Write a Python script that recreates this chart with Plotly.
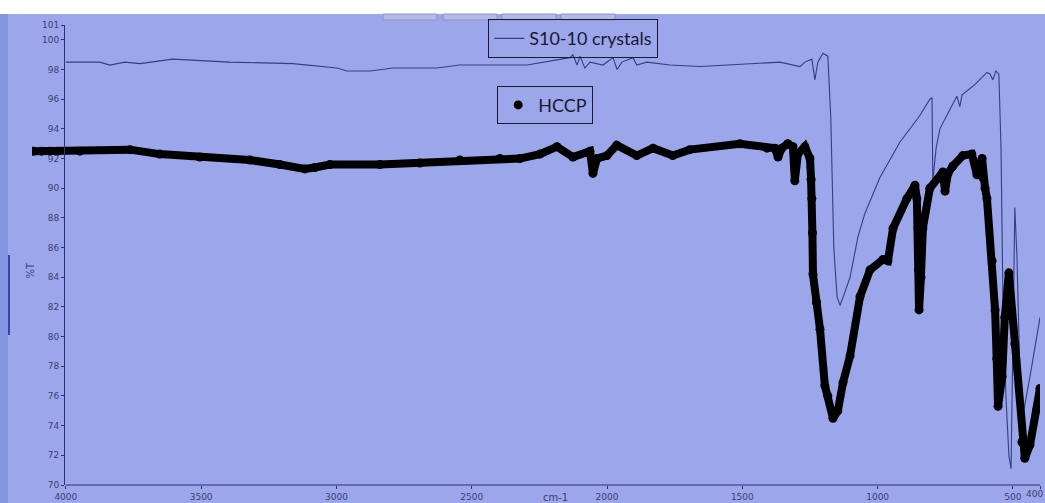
import plotly.graph_objects as go

# ---- data ----
s10_wn = [4000, 3874, 3837, 3782, 3726, 3690, 3605, 3394, 3161, 2998, 2961, 2876, 2791, 2629,
          2544, 2296, 2137, 2126, 2111, 2100, 2082, 2063, 2015, 1978, 1963, 1945, 1904, 1890,
          1853, 1768, 1657, 1361, 1287, 1269, 1243, 1232, 1221, 1202, 1184, 1173, 1162, 1150,
          1139, 1121, 1102, 1073, 1047, 992, 918, 844, 807, 799, 796, 784, 770, 733, 707, 696,
          688, 640, 596, 585, 574, 563, 552, 544, 537, 526, 515, 507, 500, 493, 485, 474, 463,
          437, 400]
s10_t = [98.5, 98.5, 98.3, 98.5, 98.4, 98.5, 98.7, 98.5, 98.4, 98.1, 97.9, 97.9, 98.1, 98.1,
         98.3, 98.3, 98.8, 99.0, 98.3, 98.9, 98.1, 98.5, 98.3, 98.8, 98.0, 98.5, 98.8, 98.3,
         98.5, 98.3, 98.2, 98.5, 98.2, 98.5, 98.7, 97.3, 98.5, 99.1, 98.9, 94.7, 86.0, 82.7,
         82.1, 83.0, 84.0, 86.7, 88.3, 90.7, 93.1, 94.9, 96.0, 96.1, 90.5, 92.7, 94.0, 95.3,
         96.2, 95.5, 96.3, 97.0, 97.8, 97.7, 97.3, 97.9, 97.7, 92.7, 82.7, 76.0, 72.0, 71.1,
         79.3, 88.7, 85.3, 77.3, 74.7, 77.3, 81.3]

hccp_wn = [4120, 4090, 4060, 4030, 3948, 3763, 3653, 3505, 3320, 3209, 3117, 3080, 3024, 2839,
           2692, 2544, 2396, 2322, 2248, 2185, 2126, 2063, 2052, 2037, 2000, 1964, 1890, 1830,
           1757, 1694, 1509, 1409, 1380, 1368, 1354, 1332, 1313, 1306, 1295, 1269, 1250, 1246,
           1243, 1241, 1239, 1226, 1213, 1195, 1184, 1165, 1147, 1128, 1102, 1065, 1028, 980,
           962, 943, 892, 862, 855, 851, 849, 847, 840, 833, 807, 759, 751, 740, 722, 685, 652,
           633, 614, 611, 603, 596, 577, 566, 560, 555, 540, 530, 515, 493, 467, 456, 437, 411,
           400]
hccp_t = [92.5, 92.5, 92.5, 92.5, 92.5, 92.6, 92.3, 92.1, 91.9, 91.6, 91.3, 91.4, 91.6, 91.6,
          91.7, 91.9, 92.0, 92.0, 92.3, 92.8, 92.1, 92.5, 91.0, 92.0, 92.2, 92.9, 92.2, 92.7,
          92.2, 92.6, 93.0, 92.7, 92.7, 92.1, 92.7, 93.0, 92.8, 90.5, 92.3, 92.8, 92.0, 90.6,
          89.3, 87.0, 84.2, 82.3, 80.5, 76.7, 76.0, 74.5, 75.0, 76.9, 78.7, 82.7, 84.5, 85.2,
          85.1, 87.3, 89.3, 90.2, 89.3, 87.3, 84.5, 81.8, 84.0, 87.3, 90.0, 91.1, 89.8, 91.0,
          91.5, 92.2, 92.3, 90.9, 92.0, 90.7, 90.0, 89.3, 85.1, 81.8, 78.5, 75.3, 77.3, 81.3,
          84.3, 79.5, 72.9, 71.8, 72.7, 75.1, 76.5]

x_ticks = [4000, 3500, 3000, 2500, 2000, 1500, 1000, 500, 400]
x_ticktext = ["4000", "3500", "3000", "2500", "2000", "1500", "1000", "500", ""]
y_ticks = [70, 72, 74, 76, 78, 80, 82, 84, 86, 88, 90, 92, 94, 96, 98, 100, 101]

BG = "#9ca6ea"
NAVY = "#2b3370"
TICKC = "#3c4170"

# plot-area geometry (pixels)
L, R, T, B = 32, 1040, 25, 485
W, H = R - L, B - T


def px(x):
    return (x - L) / W


def py(y):
    return (B - y) / H


fig = go.Figure()

fig.add_trace(go.Scatter(
    x=s10_wn, y=s10_t, mode="lines", name="S10-10 crystals",
    line=dict(color="#33407e", width=1.1), legend="legend"))

fig.add_trace(go.Scatter(
    x=hccp_wn, y=hccp_t, mode="lines", showlegend=False,
    line=dict(color="black", width=8), hoverinfo="skip"))

fig.add_trace(go.Scatter(
    x=hccp_wn, y=hccp_t, mode="markers", name="HCCP",
    marker=dict(color="black", size=9), legend="legend2"))

shapes = [
    # x-axis line (only from 4000 to 400)
    dict(type="line", xref="x", yref="paper", x0=4000, x1=400, y0=0, y1=0,
         line=dict(color=NAVY, width=1), layer="above"),
    # white band at the top of the photo
    dict(type="rect", xref="paper", yref="paper", x0=px(-5), x1=px(1050),
         y0=py(14), y1=py(-5), fillcolor="white", line=dict(width=0), layer="above"),
    # darker strip at the left edge
    dict(type="rect", xref="paper", yref="paper", x0=px(0), x1=px(8),
         y0=py(510), y1=py(14), fillcolor="#8593e0", line=dict(width=0), layer="below"),
    dict(type="rect", xref="paper", yref="paper", x0=px(8), x1=px(10),
         y0=py(335), y1=py(255), fillcolor="#3444a8", line=dict(width=0), layer="below"),
]
for bx0, bx1 in [(383, 437), (443, 497), (502, 556), (561, 615)]:
    shapes.append(dict(type="rect", xref="paper", yref="paper",
                       x0=px(bx0), x1=px(bx1), y0=py(20), y1=py(14),
                       fillcolor="#b3bae6", line=dict(color="#8a92c6", width=1), layer="above"))

fig.update_layout(
    width=1045, height=503,
    margin=dict(l=L, r=1045 - R, t=T, b=503 - B, autoexpand=False),
    paper_bgcolor=BG, plot_bgcolor=BG,
    font=dict(family="DejaVu Sans", color=TICKC, size=9),
    shapes=shapes,
    xaxis=dict(range=[4125, 400], tickvals=x_ticks, ticktext=x_ticktext,
               automargin=False,
               showgrid=False, zeroline=False, showline=False,
               ticks="outside", ticklen=3, tickcolor=NAVY, tickfont=dict(size=9, color=TICKC)),
    yaxis=dict(range=[70, 101], tickvals=y_ticks, ticktext=[str(v) for v in y_ticks],
               anchor="free", position=px(64), automargin=False,
               showgrid=False, zeroline=False, showline=True, linecolor=NAVY, linewidth=1,
               ticks="outside", ticklen=3, tickcolor=NAVY, tickfont=dict(size=9, color=TICKC)),
    legend=dict(x=px(573), y=py(38.5), xanchor="center", yanchor="middle", itemwidth=30,
                bgcolor="rgba(0,0,0,0)", bordercolor="#1a1a2a", borderwidth=1.2,
                font=dict(family="Lato", size=18, color="#1a1a2e")),
    legend2=dict(x=px(545), y=py(105), xanchor="center", yanchor="middle", itemwidth=30,
                 bgcolor="rgba(0,0,0,0)", bordercolor="#1a1a2a", borderwidth=1.2,
                 font=dict(family="Lato", size=18, color="#1a1a2e")),
    annotations=[
        dict(text="%T", xref="paper", yref="paper", x=px(22), y=py(270),
             showarrow=False, textangle=-90, font=dict(size=10, color=TICKC)),
        dict(text="cm-1", xref="paper", yref="paper", x=px(555), y=py(490),
             yanchor="top", showarrow=False, font=dict(size=10, color=TICKC)),
        # last tick label, moved slightly left so it stays inside the page
        dict(text=str(x_ticks[-1]), xref="paper", yref="paper", x=px(1044), y=py(494),
             xanchor="right", yanchor="middle", showarrow=False, borderpad=0,
             font=dict(size=9, color=TICKC)),
    ],
)

fig.write_html("out.html", config={"displayModeBar": False},
               post_script="document.body.style.margin='0';document.body.style.overflow='hidden';")
